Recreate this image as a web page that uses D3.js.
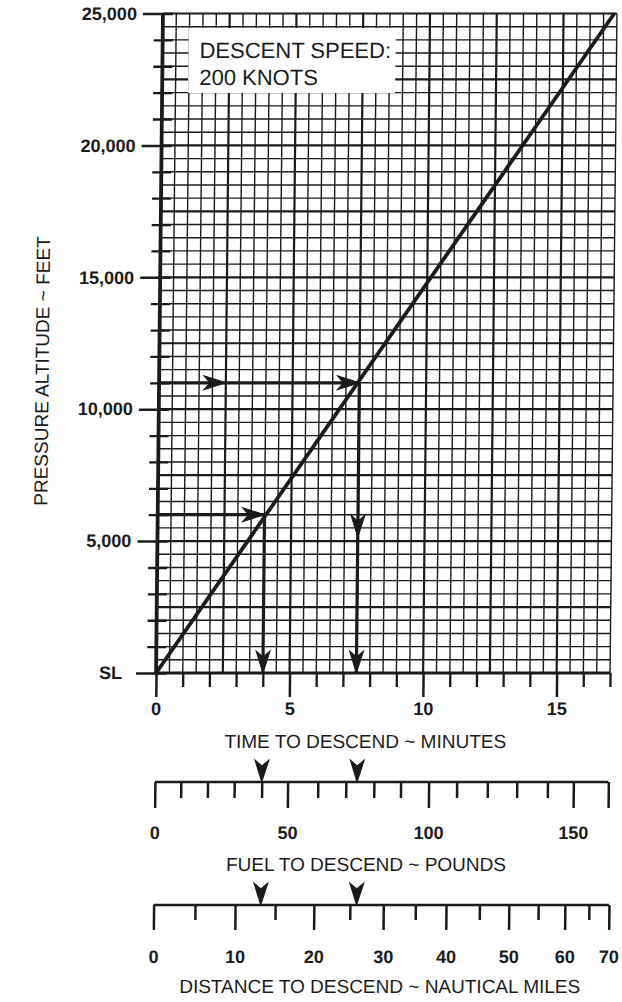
<!DOCTYPE html>
<html>
<head>
<meta charset="utf-8">
<script src="https://cdn.jsdelivr.net/npm/d3@7"></script>
<style>
body { margin: 0; background: #fff; }
</style>
</head>
<body>
<div id="chart"></div>
<script>
// descent line: time to descend (min) against pressure altitude (ft)
var lineTime = [0, 16.9]
var lineAlt = [0, 25000]

// axis ticks
var altMajor = [0, 5000, 10000, 15000, 20000, 25000]
var altLabels = ["SL", "5,000", "10,000", "15,000", "20,000", "25,000"]
var timeMajor = [0, 5, 10, 15]

// fuel scale (lb) and the minute each tick sits under
var fuelVals = [0, 10, 20, 30, 40, 50, 60, 70, 80, 90, 100, 110, 120, 130, 140, 150, 162]
var fuelMin = [0, 0.97, 1.97, 2.97, 4.0, 4.97, 6.1, 7.15, 8.2, 9.2, 10.25, 11.3, 12.45, 13.55, 14.7, 15.67, 16.98]
var fuelLabels = [0, 50, 100, 150]

// distance scale (nm) and the minute each tick sits under
var distVals = [0, 5, 10, 15, 20, 25, 30, 35, 40, 45, 50, 55, 60, 65, 70]
var distMin = [0, 1.55, 3.05, 4.55, 6.0, 7.35, 8.6, 9.8, 10.95, 12.2, 13.3, 14.4, 15.4, 16.3, 17.05]
var distLabels = [0, 10, 20, 30, 40, 50, 60, 70]

// worked examples
var exAlt = [6000, 11000]
var exTime = [4.0, 7.5]
var exFuel = [40, 74]
var exDist = [13.2, 26]
var exMidTime = [null, 2.5]
var exMidAlt = [null, 5150]

var W = 622, H = 1002
var ink = "#1b1b1b"
var font = "'Liberation Sans', Arial, Helvetica, sans-serif"

var svg = d3.select("#chart").append("svg")
    .attr("width", W).attr("height", H)
svg.append("rect").attr("width", W).attr("height", H).attr("fill", "#fff")

// the scanned sheet leans slightly to the right at the top
var g = svg.append("g").attr("transform", "translate(7.1,0) skewX(-0.6)")

var x = d3.scaleLinear().domain([0, 17]).range([156, 610])
var y = d3.scaleLinear().domain([0, 25000]).range([673, 13.5])

var fuelX = d3.scaleLinear().domain(fuelVals).range(fuelMin.map(function(m){ return x(m) }))
var distX = d3.scaleLinear().domain(distVals).range(distMin.map(function(m){ return x(m) }))

// grid
var vLines = d3.range(0, 17.01, 0.5)
var hLines = d3.range(0, 25001, 500)
g.append("g").selectAll("line").data(vLines).enter().append("line")
    .attr("x1", function(d){ return x(d) }).attr("x2", function(d){ return x(d) })
    .attr("y1", y(0)).attr("y2", y(25000))
    .attr("stroke", ink)
    .attr("stroke-width", function(d){ return d == 0 ? 3.8 : (d % 2.5 == 0 ? 2.2 : 1.4) })
g.append("g").selectAll("line").data(hLines).enter().append("line")
    .attr("y1", function(d){ return y(d) }).attr("y2", function(d){ return y(d) })
    .attr("x1", x(0)).attr("x2", x(17))
    .attr("stroke", ink)
    .attr("stroke-width", function(d){ return d == 0 ? 3 : (d % 2500 == 0 ? 2.2 : 1.4) })

// legend box
g.append("rect").attr("x", 182).attr("y", 28).attr("width", 207).attr("height", 65).attr("fill", "#fff")
g.append("text").attr("x", 193).attr("y", 58).text("DESCENT SPEED:")
    .attr("font-family", font).attr("font-size", 22).attr("fill", ink)
g.append("text").attr("x", 193).attr("y", 85).text("200 KNOTS")
    .attr("font-family", font).attr("font-size", 22).attr("fill", ink)

function styleAxis(sel, w) {
    sel.select(".domain").remove()
    sel.selectAll("line").attr("stroke", ink).attr("stroke-width", w)
    sel.attr("font-family", font).attr("font-size", 18).attr("font-weight", "bold")
    sel.selectAll("text").attr("fill", ink)
}

// altitude axis
var altMinor = d3.range(0, 25001, 1000).filter(function(d){ return altMajor.indexOf(d) < 0 })
g.append("g").attr("transform", "translate(166,0)")
    .call(d3.axisLeft(y).tickValues(altMinor).tickSize(19).tickFormat(""))
    .call(styleAxis, 2.3)
g.append("g").attr("transform", "translate(166,0)")
    .call(d3.axisLeft(y).tickValues(altMajor).tickSize(30).tickPadding(6)
        .tickFormat(function(d, i){ return altLabels[i] }))
    .call(styleAxis, 2.5)
    .selectAll("text").attr("dx", function(d){ return d == 0 ? -8 : 0 })

// time axis
var timeMinor = d3.range(0, 17.01, 1).filter(function(d){ return timeMajor.indexOf(d) < 0 })
g.append("g").attr("transform", "translate(0," + y(0) + ")")
    .call(d3.axisBottom(x).tickValues(timeMinor).tickSize(14).tickFormat(""))
    .call(styleAxis, 2.3)
g.append("g").attr("transform", "translate(0," + y(0) + ")")
    .call(d3.axisBottom(x).tickValues(timeMajor).tickSize(24).tickPadding(5))
    .call(styleAxis, 2.5)

// fuel scale
var fuelY = 782
g.append("line").attr("x1", fuelX(0)).attr("x2", fuelX(162)).attr("y1", fuelY).attr("y2", fuelY)
    .attr("stroke", ink).attr("stroke-width", 2.5)
g.append("g").attr("transform", "translate(0," + fuelY + ")")
    .call(d3.axisBottom(fuelX).tickValues(fuelVals.filter(function(d){ return d % 50 != 0 && d != 162 }))
        .tickSize(16).tickFormat(""))
    .call(styleAxis, 2.5)
g.append("g").attr("transform", "translate(0," + fuelY + ")")
    .call(d3.axisBottom(fuelX).tickValues([0, 50, 100, 150, 162]).tickSize(26).tickPadding(18)
        .tickFormat(function(d){ return fuelLabels.indexOf(d) >= 0 ? d : "" }))
    .call(styleAxis, 2.5)

// distance scale
var distY = 905
g.append("line").attr("x1", distX(0)).attr("x2", distX(70)).attr("y1", distY).attr("y2", distY)
    .attr("stroke", ink).attr("stroke-width", 2.5)
g.append("g").attr("transform", "translate(0," + distY + ")")
    .call(d3.axisBottom(distX).tickValues(distVals.filter(function(d){ return d % 10 != 0 }))
        .tickSize(15).tickFormat(""))
    .call(styleAxis, 2.5)
g.append("g").attr("transform", "translate(0," + distY + ")")
    .call(d3.axisBottom(distX).tickValues(distLabels).tickSize(25).tickPadding(20))
    .call(styleAxis, 2.5)

// titles
function title(tx, ty, s, rot) {
    var t = g.append("text").attr("text-anchor", "middle").attr("dominant-baseline", "central")
        .attr("font-family", font).attr("font-size", 19).attr("fill", ink).text(s)
    if (rot) t.attr("transform", "translate(" + tx + "," + ty + ") rotate(-90)")
    else t.attr("x", tx).attr("y", ty)
}
title(39, 371, "PRESSURE ALTITUDE ~ FEET", true)
title(366, 742, "TIME TO DESCEND ~ MINUTES")
title(368, 865, "FUEL TO DESCEND ~ POUNDS")
title(383, 987, "DISTANCE TO DESCEND ~ NAUTICAL MILES")

// descent line
var pts = lineTime.map(function(t, i){ return [t, lineAlt[i]] })
g.append("path").datum(pts)
    .attr("d", d3.line().x(function(d){ return x(d[0]) }).y(function(d){ return y(d[1]) }))
    .attr("fill", "none").attr("stroke", ink).attr("stroke-width", 3.8)

// arrowheads: tip at (px,py), pointing along angle (deg, 0 = right)
function head(px, py, ang) {
    g.append("path").attr("d", "M0,0 L-22,-7 L-16,0 L-22,7 Z")
        .attr("transform", "translate(" + px + "," + py + ") rotate(" + ang + ")")
        .attr("fill", ink).attr("stroke", ink).attr("stroke-width", 1)
}

exAlt.forEach(function(a, i) {
    var t = exTime[i]
    g.append("line").attr("x1", x(0)).attr("x2", x(t)).attr("y1", y(a)).attr("y2", y(a))
        .attr("stroke", ink).attr("stroke-width", 3.2)
    g.append("line").attr("x1", x(t)).attr("x2", x(t)).attr("y1", y(a)).attr("y2", y(0))
        .attr("stroke", ink).attr("stroke-width", 3.2)
    head(x(t), y(a), 0)
    head(x(t), y(0), 90)
    if (exMidTime[i] != null) head(x(exMidTime[i]), y(a), 0)
    if (exMidAlt[i] != null) head(x(t), y(exMidAlt[i]), 90)
    head(fuelX(exFuel[i]), fuelY, 90)
    head(distX(exDist[i]), distY, 90)
})
</script>
</body>
</html>
